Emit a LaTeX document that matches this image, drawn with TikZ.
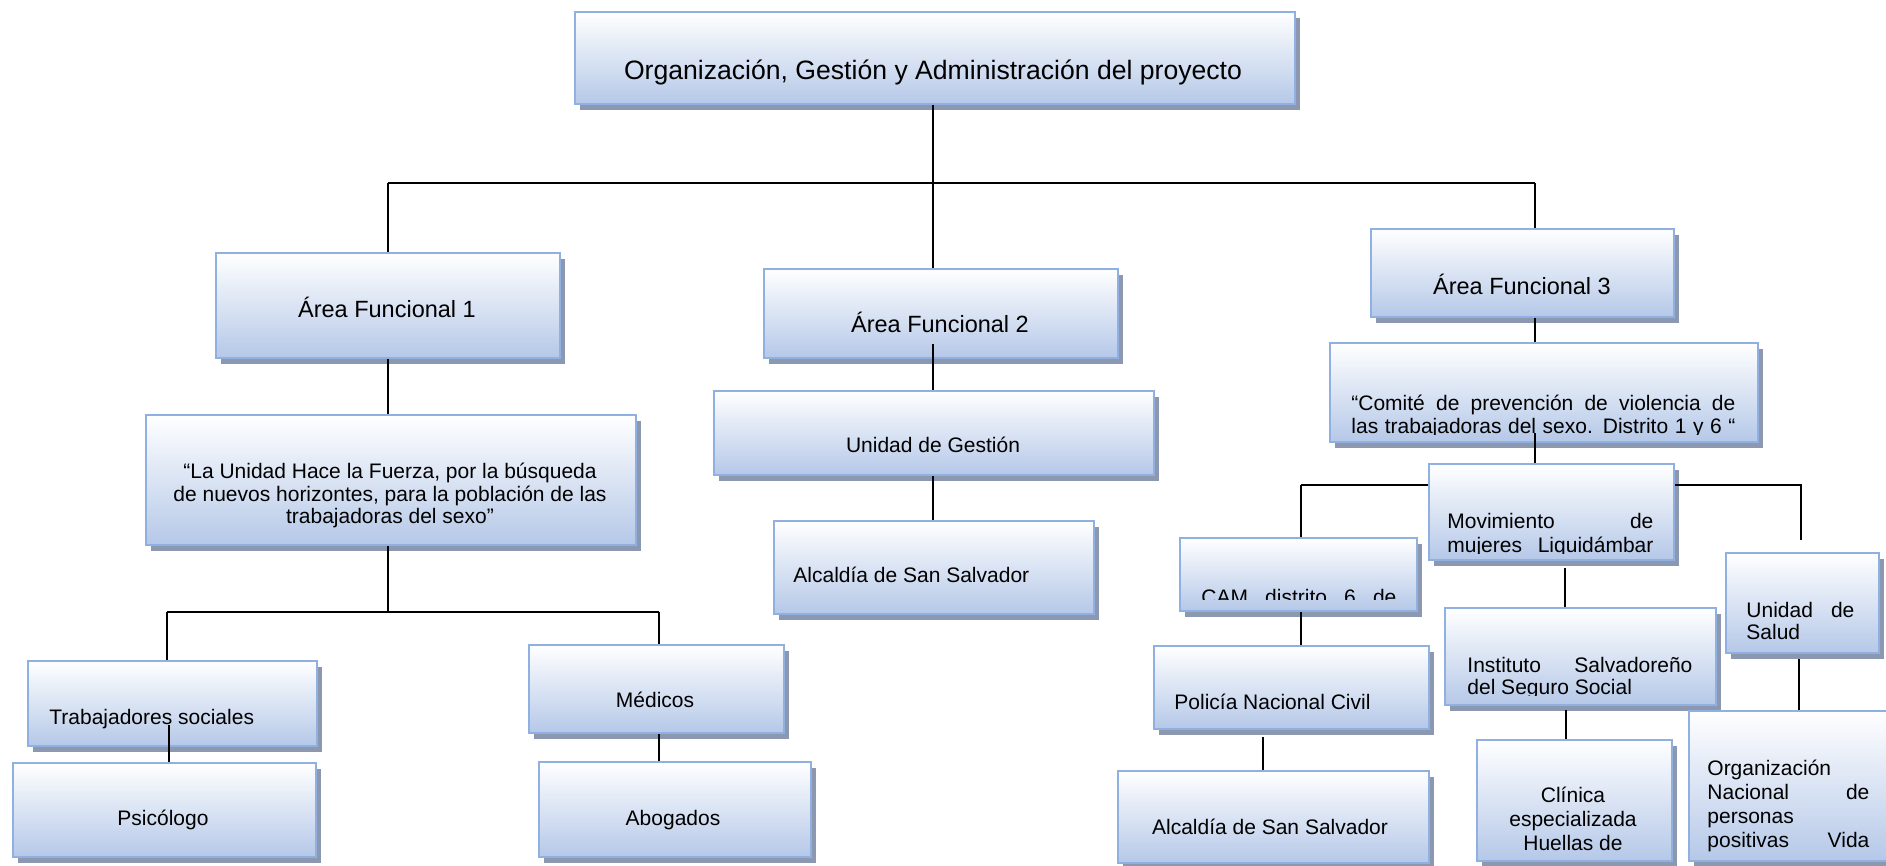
\documentclass[tikz,border=0pt]{standalone}
\usepackage{fontspec}
\setmainfont{Liberation Sans}
\usetikzlibrary{shadows}
\definecolor{bord}{RGB}{143,176,224}
\definecolor{boxb}{RGB}{181,200,232}
\definecolor{shad}{RGB}{140,152,176}
\newcommand\fsS{\fontsize{10.5pt}{12.6pt}\selectfont}
\newcommand\fsL{\fontsize{11.75pt}{14pt}\selectfont}
\newcommand\fsT{\fontsize{13.3pt}{16pt}\selectfont}
\newcommand\Bx[5]{\node[bx, minimum width={(#4-#2)*0.5pt}, minimum height={(#5-#3)*0.5pt}] (#1) at (#2,#3) {};}
\tikzset{
  bx/.style={draw=bord, line width=1pt, shading=axis, top color=white, bottom color=boxb,
    inner sep=0pt, anchor=north west,
    drop shadow={shadow xshift=2.5pt, shadow yshift=-3pt, fill=shad, opacity=1}},
  tx/.style={inner sep=0pt, font=\fsS, text=black},
  ln/.style={line width=0.75pt, draw=black},
}
\begin{document}
\begin{tikzpicture}[x=0.5pt,y=-0.5pt]
\clip (0,0) rectangle (1886,866);
\fill[white] (0,0) rectangle (1886,866);
% boxes
\Bx{top}{574}{11}{1294}{103}
\Bx{af1}{215}{252}{559}{357}
\Bx{af2}{763}{268}{1117}{357}
\Bx{af3}{1370}{228}{1673}{316}
\Bx{unidad}{145}{414}{635}{544}
\Bx{trab}{27}{660}{316}{745}
\Bx{psic}{12}{762}{315}{856}
\Bx{med}{528}{644}{783}{732}
\Bx{abog}{538}{761}{810}{856}
\Bx{gest}{713}{390}{1153}{474}
\Bx{alcm}{773}{520}{1093}{613}
\Bx{comite}{1329}{342}{1757}{441}
\Bx{mov}{1428}{463}{1673}{559}
\Bx{cam}{1179}{537}{1416}{610}
\Bx{inst}{1444}{607}{1715}{704}
\Bx{salud}{1725}{552}{1878}{652}
\Bx{pol}{1153}{645}{1428}{728}
\Bx{alcr}{1117}{770}{1428}{862}
\Bx{clin}{1476}{739}{1671}{860}
\Bx{org}{1688}{710}{1900}{860}
% connectors
\coordinate (bar) at (933,183);
\coordinate (b1) at (388,183);
\coordinate (b3) at (1535,183);
\draw[ln] (top.south -| bar) -- (bar);
\draw[ln] (b1) -- (b3);
\draw[ln] (b1) -- (af1.north -| b1);
\draw[ln] (bar) -- (af2.north -| bar);
\draw[ln] (b3) -- (af3.north -| b3);
\draw[ln] (af1.south -| b1) -- (unidad.north -| b1);
\coordinate (b2) at (388,612);
\coordinate (b2l) at (167,612);
\coordinate (b2r) at (659,612);
\draw[ln] (unidad.south -| b2) -- (b2);
\draw[ln] (b2l) -- (b2r);
\draw[ln] (b2l) -- (trab.north -| b2l);
\draw[ln] (b2r) -- (med.north -| b2r);
\coordinate (tp) at (169,725);
\draw[ln] (tp) -- (psic.north -| tp);
\draw[ln] (med.south -| b2r) -- (abog.north -| b2r);
\coordinate (a2) at (933,344);
\draw[ln] (a2) -- (gest.north -| a2);
\draw[ln] (gest.south -| a2) -- (alcm.north -| a2);
\draw[ln] (af3.south -| b3) -- (comite.north -| b3);
\coordinate (c3) at (1535,433);
\draw[ln] (c3) -- (mov.north -| c3);
\coordinate (m1) at (1301,485);
\coordinate (m2) at (1801,485);
\coordinate (m3) at (1801,540);
\draw[ln] (m1) -- (mov.west |- m1);
\draw[ln] (mov.east |- m1) -- (m2) -- (m3);
\draw[ln] (m1) -- (cam.north -| m1);
\draw[ln] (cam.south -| m1) -- (pol.north -| m1);
\coordinate (p1) at (1263,737);
\draw[ln] (p1) -- (alcr.north -| p1);
\coordinate (mv) at (1565,568);
\draw[ln] (mv) -- (inst.north -| mv);
\coordinate (iv) at (1566,710);
\draw[ln] (iv) -- (clin.north -| iv);
\coordinate (sv) at (1799,659);
\draw[ln] (sv) -- (org.north -| sv);
% texts
\node[tx, font=\fsT, anchor=base] (top-t) at (933,80) {Organización, Gestión y Administración del proyecto};
\node[tx, font=\fsL, anchor=base] (af1-t) at (387,318) {Área Funcional 1};
\node[tx, font=\fsL, anchor=base] (af2-t) at (940,333) {Área Funcional 2};
\node[tx, font=\fsL, anchor=base] (af3-t) at (1522,295) {Área Funcional 3};
\node[tx, anchor=base] (un-1) at (390,479) {“La Unidad Hace la Fuerza, por la búsqueda};
\node[tx, anchor=base] (un-2) at (390,501) {de nuevos horizontes, para la población de las};
\node[tx, anchor=base] (un-3) at (390,523) {trabajadoras del sexo”};
\node[tx, anchor=base west] (trab-t) at (49,724) {Trabajadores sociales};
\node[tx, anchor=base] (psic-t) at (163,825) {Psicólogo};
\node[tx, anchor=base] (med-t) at (655,707) {Médicos};
\node[tx, anchor=base] (abog-t) at (673,825) {Abogados};
\node[tx, anchor=base] (gest-t) at (933,452) {Unidad de Gestión};
\node[tx, anchor=base west] (alcm-t) at (793,582) {Alcaldía de San Salvador};
\begin{scope}
\clip (1329,342) rectangle (1757,434);
\node[tx, anchor=base west] (com-1) at (1351,410) {\makebox[192pt][s]{“Comité de prevención de violencia de}};
\node[tx, anchor=base west] (com-2) at (1351,433) {\makebox[192pt][s]{las trabajadoras del sexo. Distrito 1 y 6 “}};
\end{scope}
\begin{scope}
\clip (1428,463) rectangle (1673,553);
\node[tx, anchor=base west] (mov-1) at (1447,528) {\makebox[103pt][s]{Movimiento de}};
\node[tx, anchor=base west] (mov-2) at (1447,552) {\makebox[103pt][s]{mujeres Liquidámbar}};
\end{scope}
\begin{scope}
\clip (1179,537) rectangle (1416,599);
\node[tx, anchor=base west] (cam-t) at (1201,604) {\makebox[97.5pt][s]{CAM distrito 6 de}};
\end{scope}
\begin{scope}
\clip (1444,607) rectangle (1715,695);
\node[tx, anchor=base west] (inst-1) at (1467,672) {\makebox[112.5pt][s]{Instituto Salvadoreño}};
\node[tx, anchor=base west] (inst-2) at (1467,694) {del Seguro Social};
\end{scope}
\node[tx, anchor=base west] (sal-1) at (1746,617) {\makebox[54pt][s]{Unidad de}};
\node[tx, anchor=base west] (sal-2) at (1746,639) {Salud};
\node[tx, anchor=base west] (pol-t) at (1174,709) {Policía Nacional Civil};
\node[tx, anchor=base] (alcr-t) at (1270,834) {Alcaldía de San Salvador};
\begin{scope}
\clip (1476,739) rectangle (1671,851);
\node[tx, anchor=base] (clin-1) at (1573,802) {Clínica};
\node[tx, anchor=base] (clin-2) at (1573,826) {especializada};
\node[tx, anchor=base] (clin-3) at (1573,850) {Huellas de};
\end{scope}
\node[tx, anchor=base west] (org-1) at (1707,775) {Organización};
\node[tx, anchor=base west] (org-2) at (1707,799) {\makebox[81pt][s]{Nacional de}};
\node[tx, anchor=base west] (org-3) at (1707,823) {personas};
\node[tx, anchor=base west] (org-4) at (1707,847) {\makebox[81pt][s]{positivas Vida}};
\end{tikzpicture}
\end{document}
